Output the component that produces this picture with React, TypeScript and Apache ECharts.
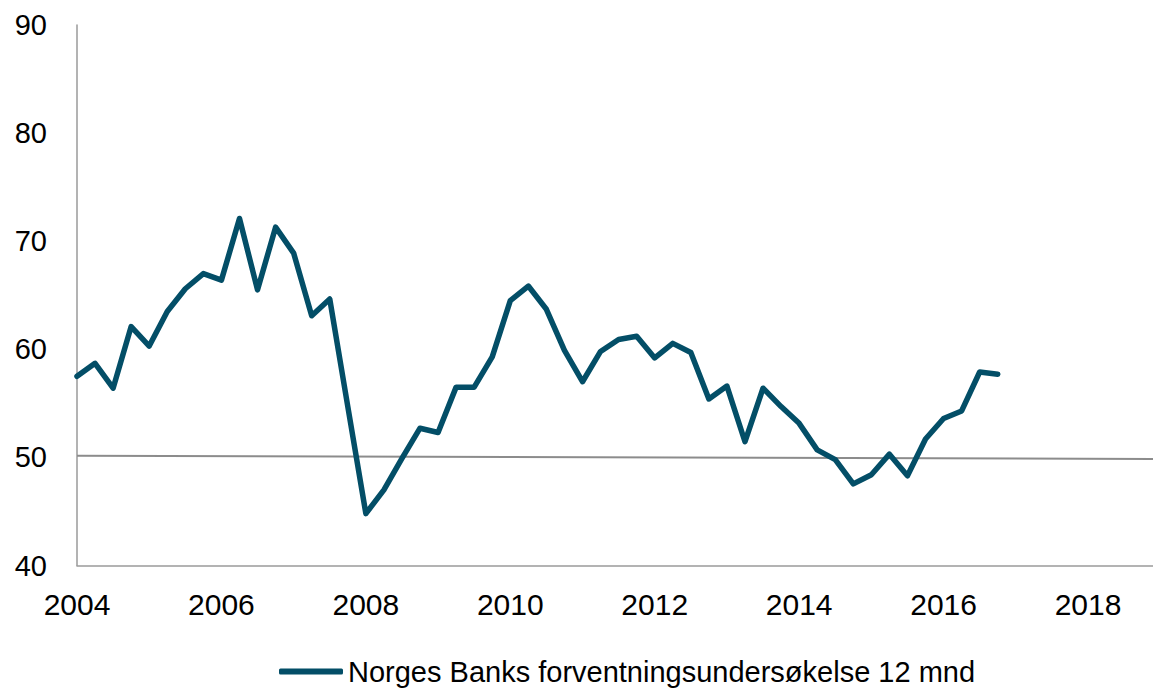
import React, { useEffect, useRef } from "react";
import * as echarts from "echarts";

const seriesName = "Norges Banks forventningsundersøkelse 12 mnd";
const startYear = 2004;
// Quarterly values, 2004 Q1 .. 2016 Q4
const values = [
  57.5, 58.7, 56.4, 62.1, 60.3, 63.5, 65.6, 67.0, 66.4, 72.1, 65.5, 71.3,
  68.9, 63.1, 64.65, 54.7, 44.8, 47.0, 49.9, 52.7, 52.3, 56.5, 56.5, 59.3,
  64.5, 65.85, 63.7, 59.9, 57.0, 59.8, 60.9, 61.2, 59.2, 60.55, 59.7, 55.4,
  56.6, 51.45, 56.4, 54.7, 53.15, 50.7, 49.8, 47.55, 48.4, 50.3, 48.3, 51.7,
  53.6, 54.3, 57.9, 57.7,
];
const refLine = [
  [2004, 50.15],
  [2018.9, 49.85],
];
const xMin = 2004;
const xMax = 2018.9;
const yMin = 40;
const yMax = 90;

export default function App() {
  const ref = useRef<HTMLDivElement>(null);
  useEffect(() => {
    if (!ref.current) return;
    const chart = echarts.init(ref.current, undefined, { renderer: "svg" });
    const data = values.map((v, i) => [startYear + i * 0.25, v]);
    const font = "'Liberation Sans', Arial, sans-serif";
    chart.setOption({
      animation: false,
      backgroundColor: "#ffffff",
      grid: { left: 77, top: 25, width: 1076, height: 540.5, containLabel: false },
      xAxis: {
        type: "value",
        min: xMin,
        max: xMax,
        interval: 2,
        axisLine: { show: true, lineStyle: { color: "#9a9a9a", width: 1.5 } },
        axisTick: { show: false },
        splitLine: { show: false },
        axisLabel: {
          color: "#000",
          fontSize: 30,
          fontFamily: font,
          margin: 24,
          showMaxLabel: false,
          formatter: (v: number) => String(Math.round(v)),
        },
      },
      yAxis: {
        type: "value",
        min: yMin,
        max: yMax,
        interval: 10,
        axisLine: { show: true, lineStyle: { color: "#9a9a9a", width: 1.5 } },
        axisTick: { show: false },
        splitLine: { show: false },
        axisLabel: { color: "#000", fontSize: 29, fontFamily: font, margin: 30 },
      },
      legend: {
        data: [seriesName],
        left: 274,
        top: 652,
        itemWidth: 64,
        itemHeight: 6,
        icon: "roundRect",
        textStyle: { color: "#000", fontSize: 29, fontFamily: font },
      },
      series: [
        {
          name: "ref",
          type: "line",
          data: refLine,
          symbol: "none",
          silent: true,
          lineStyle: { color: "#8c8c8c", width: 2 },
          z: 1,
        },
        {
          name: seriesName,
          type: "line",
          data,
          symbol: "none",
          itemStyle: { color: "#034e67" },
          lineStyle: { color: "#034e67", width: 5.5, join: "round", cap: "round" },
          z: 3,
        },
      ],
    });
    return () => chart.dispose();
  }, []);
  return (
    <div
      ref={ref}
      style={{ position: "absolute", left: 0, top: 0, width: 1153, height: 689 }}
    />
  );
}
